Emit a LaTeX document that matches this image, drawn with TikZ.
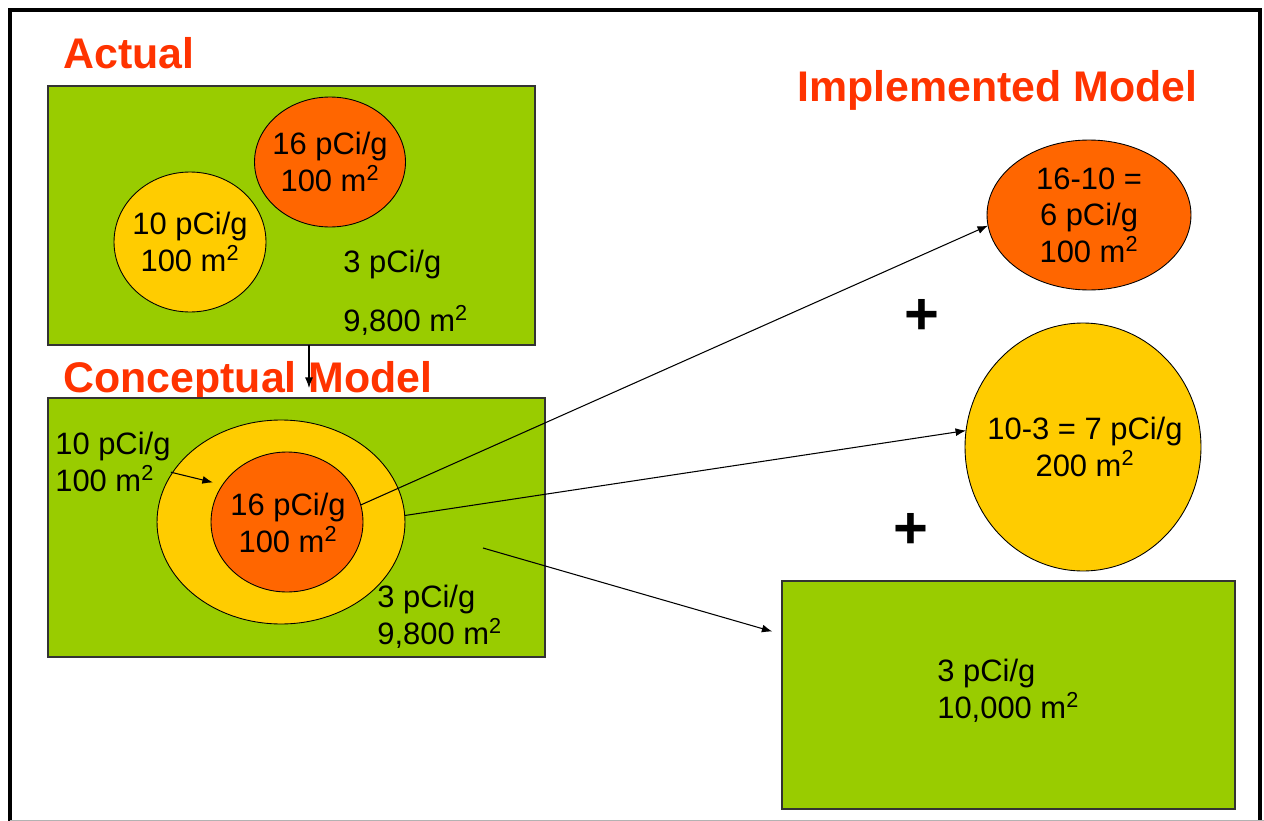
\documentclass[tikz,border=0pt]{standalone}
\usepackage{fontspec}
\setmainfont{Liberation Sans}
\usetikzlibrary{shapes.geometric,arrows.meta}
\definecolor{grass}{HTML}{99CC00}
\definecolor{hot}{HTML}{FF6600}
\definecolor{warm}{HTML}{FFCC00}
\definecolor{heading}{HTML}{FF3300}
\newcommand{\msq}{m\textsuperscript{2}}

\begin{document}
\begin{tikzpicture}[x=0.02cm,y=-0.02cm,
    zone/.style={draw=black!80,fill=grass,line width=0.7pt,inner sep=0pt,outer sep=0pt},
    spot/.style={ellipse,draw,line width=0.5pt,inner sep=0pt,outer sep=0pt},
    txt/.style={font=\fontsize{17.6}{20.8}\selectfont,align=center,inner sep=0pt},
    headline/.style={font=\fontsize{24.4}{28}\selectfont\bfseries,text=heading,anchor=base west,inner sep=0pt},
    plus/.style={font=\fontsize{34}{34}\selectfont\bfseries,inner sep=0pt},
    link/.style={-{Latex[length=6pt,width=4.5pt]},line width=0.6pt}]
  \useasboundingbox (0,0) rectangle (1264,821);
  % frame
  \draw[line width=2.8pt] (10,821) -- (10,10) -- (1260,10) -- (1260,821);
  \draw[black!30] (10,820) -- (1264,820);

  % titles
  \node[headline] (tactual) at (63,69) {Actual};
  \node[headline] (tconcept) at (63,392) {Conceptual Model};
  \node[headline] (timpl) at (797,102) {Implemented Model};

  % actual
  \node[zone,minimum width=9.74cm,minimum height=5.18cm] (actual) at (291.5,215.5) {};
  \node[spot,fill=hot,minimum width=3.02cm,minimum height=2.6cm] (aorange) at (330,162) {};
  \node[spot,fill=warm,minimum width=3.04cm,minimum height=2.8cm] (ayellow) at (190,242) {};
  \node[txt] at (aorange.center) {16 pCi/g\\100 \msq};
  \node[txt] at (ayellow.center) {10 pCi/g\\100 \msq};
  \node[txt,anchor=west] (abg) at (343,265) {3 pCi/g};
  \node[txt,anchor=west] (abgarea) at (343,320) {9,800 \msq};

  % conceptual
  \node[zone,minimum width=9.94cm,minimum height=5.18cm] (concept) at (296.5,527.5) {};
  \node[spot,fill=warm,minimum width=4.96cm,minimum height=4.08cm] (cring) at (281,522) {};
  \node[spot,fill=hot,minimum width=3.04cm,minimum height=2.8cm] (cin) at (287,522) {};
  \node[txt] at (288,523) {16 pCi/g\\100 \msq};
  \node[txt,align=left,anchor=north west] (lring) at (55,432) {10 pCi/g\\100 \msq};
  \node[txt,align=left,anchor=west] (cbg) at (377,617) {3 pCi/g\\9,800 \msq};
  \coordinate (cmid) at (483,548);

  % implemented
  \node[spot,fill=hot,minimum width=4.08cm,minimum height=3.0cm] (iorange) at (1089,215) {};
  \node[txt] at (1089,215) {16-10 =\\6 pCi/g\\100 \msq};
  \node[plus] (plusa) at (922,317) {+};
  \node[spot,fill=warm,minimum width=4.72cm,minimum height=4.96cm] (iyellow) at (1083,447) {};
  \node[txt] at (1085,447) {10-3 = 7 pCi/g\\200 \msq};
  \node[plus] (plusb) at (911,531) {+};
  \node[zone,minimum width=9.06cm,minimum height=4.56cm] (igreen) at (1008.5,695) {};
  \node[txt,align=left,anchor=west] (gtext) at (937,691) {3 pCi/g\\10,000 \msq};

  % arrows
  \draw[link,shorten >=0.2cm] ([xshift=0.35cm]actual.south) -- ([xshift=0.35cm]concept.north -| actual.south);
  \draw[link,shorten >=0.2cm] (lring.-10) -- (cin.150);
  \draw[link] (cin.13) -- (iorange.186);
  \draw[link] (cring.3) -- (iyellow.172);
  \draw[link,shorten >=0.2cm] (cmid) -- (igreen.165);
\end{tikzpicture}
\end{document}
